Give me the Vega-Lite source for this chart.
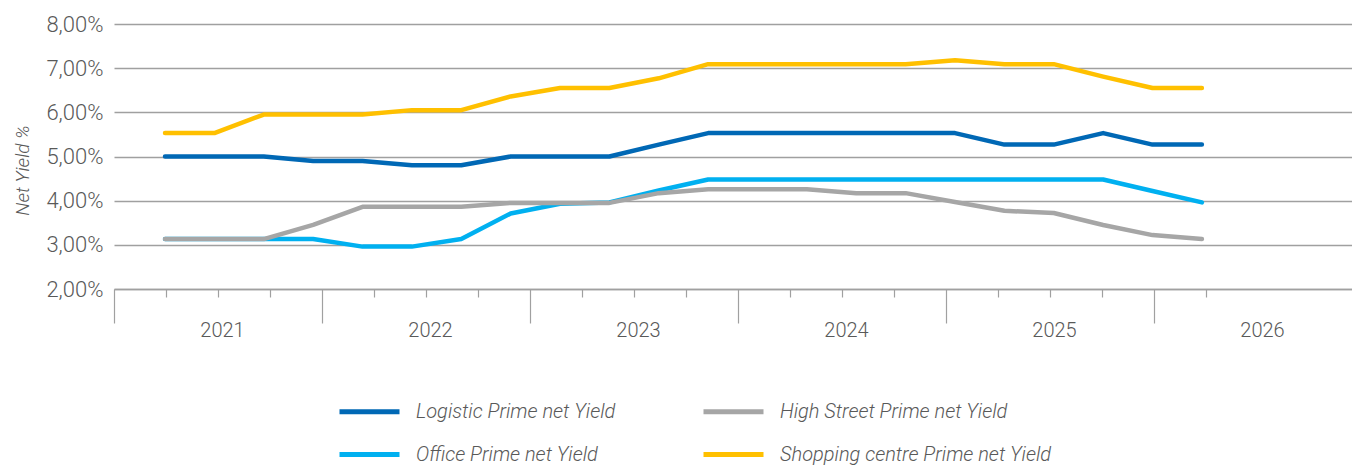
{
  "$schema": "https://vega.github.io/schema/vega-lite/v6.json",
  "width": 1238,
  "height": 265,
  "autosize": {"type": "none"},
  "padding": {"left": 114, "top": 24, "right": 0, "bottom": 176},
  "background": "white",
  "config": {
    "view": {"stroke": null},
    "font": "Roboto",
    "text": {"font": "Roboto"}
  },
  "datasets": {
    "yields": [
      {"i": 0, "series": "Office Prime net Yield", "v": 3.13},
      {"i": 1, "series": "Office Prime net Yield", "v": 3.13},
      {"i": 2, "series": "Office Prime net Yield", "v": 3.13},
      {"i": 3, "series": "Office Prime net Yield", "v": 3.13},
      {"i": 4, "series": "Office Prime net Yield", "v": 2.96},
      {"i": 5, "series": "Office Prime net Yield", "v": 2.96},
      {"i": 6, "series": "Office Prime net Yield", "v": 3.13},
      {"i": 7, "series": "Office Prime net Yield", "v": 3.71},
      {"i": 8, "series": "Office Prime net Yield", "v": 3.93},
      {"i": 9, "series": "Office Prime net Yield", "v": 3.96},
      {"i": 10, "series": "Office Prime net Yield", "v": 4.23},
      {"i": 11, "series": "Office Prime net Yield", "v": 4.48},
      {"i": 12, "series": "Office Prime net Yield", "v": 4.48},
      {"i": 13, "series": "Office Prime net Yield", "v": 4.48},
      {"i": 14, "series": "Office Prime net Yield", "v": 4.48},
      {"i": 15, "series": "Office Prime net Yield", "v": 4.48},
      {"i": 16, "series": "Office Prime net Yield", "v": 4.48},
      {"i": 17, "series": "Office Prime net Yield", "v": 4.48},
      {"i": 18, "series": "Office Prime net Yield", "v": 4.48},
      {"i": 19, "series": "Office Prime net Yield", "v": 4.48},
      {"i": 20, "series": "Office Prime net Yield", "v": 4.22},
      {"i": 21, "series": "Office Prime net Yield", "v": 3.96},
      {"i": 0, "series": "Logistic Prime net Yield", "v": 5.0},
      {"i": 1, "series": "Logistic Prime net Yield", "v": 5.0},
      {"i": 2, "series": "Logistic Prime net Yield", "v": 5.0},
      {"i": 3, "series": "Logistic Prime net Yield", "v": 4.9},
      {"i": 4, "series": "Logistic Prime net Yield", "v": 4.9},
      {"i": 5, "series": "Logistic Prime net Yield", "v": 4.8},
      {"i": 6, "series": "Logistic Prime net Yield", "v": 4.8},
      {"i": 7, "series": "Logistic Prime net Yield", "v": 5.0},
      {"i": 8, "series": "Logistic Prime net Yield", "v": 5.0},
      {"i": 9, "series": "Logistic Prime net Yield", "v": 5.0},
      {"i": 10, "series": "Logistic Prime net Yield", "v": 5.27},
      {"i": 11, "series": "Logistic Prime net Yield", "v": 5.53},
      {"i": 12, "series": "Logistic Prime net Yield", "v": 5.53},
      {"i": 13, "series": "Logistic Prime net Yield", "v": 5.53},
      {"i": 14, "series": "Logistic Prime net Yield", "v": 5.53},
      {"i": 15, "series": "Logistic Prime net Yield", "v": 5.53},
      {"i": 16, "series": "Logistic Prime net Yield", "v": 5.53},
      {"i": 17, "series": "Logistic Prime net Yield", "v": 5.27},
      {"i": 18, "series": "Logistic Prime net Yield", "v": 5.27},
      {"i": 19, "series": "Logistic Prime net Yield", "v": 5.53},
      {"i": 20, "series": "Logistic Prime net Yield", "v": 5.27},
      {"i": 21, "series": "Logistic Prime net Yield", "v": 5.27},
      {"i": 0, "series": "High Street Prime net Yield", "v": 3.13},
      {"i": 1, "series": "High Street Prime net Yield", "v": 3.13},
      {"i": 2, "series": "High Street Prime net Yield", "v": 3.13},
      {"i": 3, "series": "High Street Prime net Yield", "v": 3.45},
      {"i": 4, "series": "High Street Prime net Yield", "v": 3.86},
      {"i": 5, "series": "High Street Prime net Yield", "v": 3.86},
      {"i": 6, "series": "High Street Prime net Yield", "v": 3.86},
      {"i": 7, "series": "High Street Prime net Yield", "v": 3.95},
      {"i": 8, "series": "High Street Prime net Yield", "v": 3.95},
      {"i": 9, "series": "High Street Prime net Yield", "v": 3.95},
      {"i": 10, "series": "High Street Prime net Yield", "v": 4.17},
      {"i": 11, "series": "High Street Prime net Yield", "v": 4.26},
      {"i": 12, "series": "High Street Prime net Yield", "v": 4.26},
      {"i": 13, "series": "High Street Prime net Yield", "v": 4.26},
      {"i": 14, "series": "High Street Prime net Yield", "v": 4.17},
      {"i": 15, "series": "High Street Prime net Yield", "v": 4.17},
      {"i": 16, "series": "High Street Prime net Yield", "v": 3.97},
      {"i": 17, "series": "High Street Prime net Yield", "v": 3.77},
      {"i": 18, "series": "High Street Prime net Yield", "v": 3.72},
      {"i": 19, "series": "High Street Prime net Yield", "v": 3.45},
      {"i": 20, "series": "High Street Prime net Yield", "v": 3.22},
      {"i": 21, "series": "High Street Prime net Yield", "v": 3.13},
      {"i": 0, "series": "Shopping centre Prime net Yield", "v": 5.53},
      {"i": 1, "series": "Shopping centre Prime net Yield", "v": 5.53},
      {"i": 2, "series": "Shopping centre Prime net Yield", "v": 5.95},
      {"i": 3, "series": "Shopping centre Prime net Yield", "v": 5.95},
      {"i": 4, "series": "Shopping centre Prime net Yield", "v": 5.95},
      {"i": 5, "series": "Shopping centre Prime net Yield", "v": 6.05},
      {"i": 6, "series": "Shopping centre Prime net Yield", "v": 6.05},
      {"i": 7, "series": "Shopping centre Prime net Yield", "v": 6.36},
      {"i": 8, "series": "Shopping centre Prime net Yield", "v": 6.55},
      {"i": 9, "series": "Shopping centre Prime net Yield", "v": 6.55},
      {"i": 10, "series": "Shopping centre Prime net Yield", "v": 6.77},
      {"i": 11, "series": "Shopping centre Prime net Yield", "v": 7.09},
      {"i": 12, "series": "Shopping centre Prime net Yield", "v": 7.09},
      {"i": 13, "series": "Shopping centre Prime net Yield", "v": 7.09},
      {"i": 14, "series": "Shopping centre Prime net Yield", "v": 7.09},
      {"i": 15, "series": "Shopping centre Prime net Yield", "v": 7.09},
      {"i": 16, "series": "Shopping centre Prime net Yield", "v": 7.18},
      {"i": 17, "series": "Shopping centre Prime net Yield", "v": 7.09},
      {"i": 18, "series": "Shopping centre Prime net Yield", "v": 7.09},
      {"i": 19, "series": "Shopping centre Prime net Yield", "v": 6.81},
      {"i": 20, "series": "Shopping centre Prime net Yield", "v": 6.55},
      {"i": 21, "series": "Shopping centre Prime net Yield", "v": 6.55}
    ],
    "quarters": [
      {"q": 0}, {"q": 1}, {"q": 2}, {"q": 3}, {"q": 4}, {"q": 5}, {"q": 6}, {"q": 7},
      {"q": 8}, {"q": 9}, {"q": 10}, {"q": 11}, {"q": 12}, {"q": 13}, {"q": 14}, {"q": 15},
      {"q": 16}, {"q": 17}, {"q": 18}, {"q": 19}, {"q": 20}, {"q": 21}, {"q": 22}
    ]
  },
  "layer": [
    {
      "data": {"name": "quarters"},
      "mark": {"type": "point", "opacity": 0},
      "encoding": {
        "x": {
          "field": "q",
          "type": "quantitative",
          "scale": {"domain": [0, 23.808], "nice": false, "zero": false},
          "axis": {
            "title": null,
            "values": [0,1,2,3,4,5,6,7,8,9,10,11,12,13,14,15,16,17,18,19,20,21,22],
            "grid": false,
            "domain": true,
            "domainColor": "#a0a0a0",
            "domainWidth": 1.3,
            "tickColor": "#a0a0a0",
            "tickWidth": 1.2,
            "tickSize": {"condition": {"test": "datum.value % 4 === 0", "value": 34}, "value": 8},
            "tickOpacity": {"condition": {"test": "datum.value === 22", "value": 0}, "value": 1},
            "labelExpr": "datum.value % 4 === 2 ? '' + (2021 + (datum.value - 2) / 4) : ''",
            "labelFontSize": 20,
            "labelFont": "Roboto",
            "labelFontWeight": 300,
            "labelColor": "#595959",
            "labelPadding": 23,
            "labelOffset": 4,
            "labelFlush": false,
            "labelOverlap": false,
            "labelBound": false
          }
        },
        "y": {"datum": 2, "type": "quantitative"}
      }
    },
    {
      "data": {"name": "yields"},
      "mark": {"type": "line", "strokeWidth": 4.5, "strokeCap": "round", "strokeJoin": "round"},
      "encoding": {
        "x": {
          "field": "i",
          "type": "quantitative",
          "scale": {"domain": [-1.033, 24.04], "nice": false, "zero": false},
          "axis": null
        },
        "y": {
          "field": "v",
          "type": "quantitative",
          "scale": {"domain": [2, 8], "nice": false, "zero": false},
          "axis": {
            "values": [2, 3, 4, 5, 6, 7, 8],
            "title": "Net Yield %",
            "titleFont": "Roboto",
            "titleFontSize": 19,
            "titleFontWeight": 300,
            "titleFontStyle": "italic",
            "titleColor": "#595959",
            "titlePadding": 13,
            "titleY": 146,
            "grid": true,
            "gridColor": "#a0a0a0",
            "gridWidth": 1.3,
            "domain": false,
            "ticks": false,
            "labelExpr": "replace(format(datum.value, '.2f'), '.', ',') + '%'",
            "labelFont": "Roboto",
            "labelFontSize": 22,
            "labelFontWeight": 300,
            "labelColor": "#595959",
            "labelPadding": 11
          }
        },
        "color": {
          "field": "series",
          "type": "nominal",
          "scale": {
            "domain": ["Logistic Prime net Yield", "High Street Prime net Yield", "Office Prime net Yield", "Shopping centre Prime net Yield"],
            "range": ["#0068b5", "#a6a6a6", "#00b0f0", "#ffc000"]
          },
          "legend": {
            "title": null,
            "orient": "none",
            "legendX": 223,
            "legendY": 355,
            "columns": 2,
            "direction": "horizontal",
            "symbolType": "stroke",
            "symbolSize": 3600,
            "symbolStrokeWidth": 5,
            "labelFont": "Roboto",
            "labelFontSize": 20,
            "labelFontWeight": 300,
            "labelFontStyle": "italic",
            "labelColor": "#595959",
            "labelOffset": 14,
            "columnPadding": 77,
            "rowPadding": -15,
            "labelLimit": 400
          }
        }
      }
    }
  ],
  "resolve": {"scale": {"x": "independent"}, "axis": {"x": "independent"}}
}
